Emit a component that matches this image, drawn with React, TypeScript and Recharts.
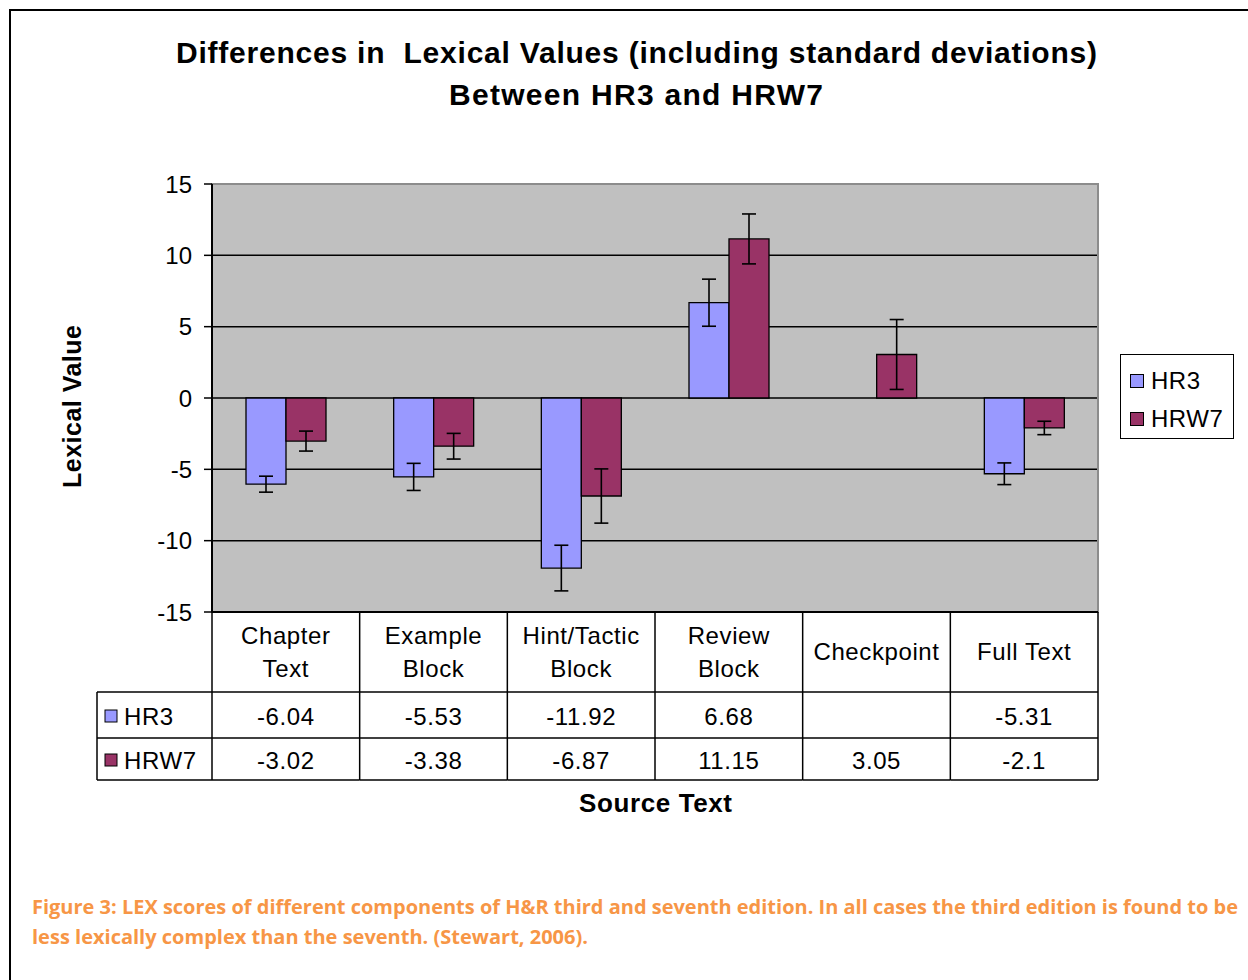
import React from 'react';
import { BarChart, Bar, XAxis, YAxis, CartesianGrid, ErrorBar, Legend, ReferenceArea } from 'recharts';

// ---------- data ----------
const categories = ['Chapter Text', 'Example Block', 'Hint/Tactic Block', 'Review Block', 'Checkpoint', 'Full Text'];
const headerLines = [['Chapter', 'Text'], ['Example', 'Block'], ['Hint/Tactic', 'Block'], ['Review', 'Block'], ['Checkpoint'], ['Full Text']];
const hr3Values: (number | null)[] = [-6.04, -5.53, -11.92, 6.68, null, -5.31];
const hrw7Values: (number | null)[] = [-3.02, -3.38, -6.87, 11.15, 3.05, -2.1];
const hr3Errors: (number | null)[] = [0.56, 0.95, 1.6, 1.65, null, 0.76];
const hrw7Errors: (number | null)[] = [0.7, 0.9, 1.9, 1.75, 2.45, 0.47];
const yTicks = [-15, -10, -5, 0, 5, 10, 15];
const gridValues = [-10, -5, 0, 5, 10];
const seriesNames = ['HR3', 'HRW7'];
const seriesColors = ['#9999FF', '#993366'];

const data = categories.map((name, i) => ({
  name,
  hr3: hr3Values[i],
  hrw7: hrw7Values[i],
  hr3Err: hr3Errors[i],
  hrw7Err: hrw7Errors[i],
}));

// ---------- layout ----------
const W = 1248;
const H = 980;
const PLOT_L = 212;
const PLOT_R = 1098;
const PLOT_T = 184;
const PLOT_B = 612;
const YAXIS_W = 150;
const XAXIS_H = 200;
const COL_W = (PLOT_R - PLOT_L) / categories.length;
const FONT = '"Liberation Sans", Arial, sans-serif';
const LINE = '#000';

const fmt = (v: number | null) => (v == null ? '' : String(v));

const TableTick = (props: any) => {
  const { x, y, index, payload } = props;
  const i = payload && payload.index != null ? payload.index : index;
  const left = x - COL_W / 2;
  const right = x + COL_W / 2;
  const lines = headerLines[i] || [categories[i]];
  const r1 = y + 80;
  const r2 = y + 126;
  const r3 = y + 168;
  const textStyle = { fontFamily: FONT, fontSize: 24, fill: '#000', letterSpacing: 0.6 };
  const headerYs = lines.length === 2 ? [y + 23, y + 56] : [y + 39];
  return (
    <g>
      {i === 0 && <line x1={left} y1={y} x2={left} y2={r3} stroke={LINE} strokeWidth={1.5} />}
      <line x1={right} y1={y} x2={right} y2={r3} stroke={LINE} strokeWidth={1.5} />
      <line x1={left} y1={r1} x2={right} y2={r1} stroke={LINE} strokeWidth={1.5} />
      <line x1={left} y1={r2} x2={right} y2={r2} stroke={LINE} strokeWidth={1.5} />
      <line x1={left} y1={r3} x2={right} y2={r3} stroke={LINE} strokeWidth={1.5} />
      {lines.map((t: string, k: number) => (
        <text key={k} x={x} y={headerYs[k]} textAnchor="middle" dominantBaseline="central" style={textStyle}>
          {t}
        </text>
      ))}
      <text x={x} y={y + 104} textAnchor="middle" dominantBaseline="central" style={textStyle}>
        {fmt(hr3Values[i])}
      </text>
      <text x={x} y={y + 148} textAnchor="middle" dominantBaseline="central" style={textStyle}>
        {fmt(hrw7Values[i])}
      </text>
      {i === 0 && (
        <g>
          <line x1={97} y1={r1} x2={left} y2={r1} stroke={LINE} strokeWidth={1.5} />
          <line x1={97} y1={r2} x2={left} y2={r2} stroke={LINE} strokeWidth={1.5} />
          <line x1={97} y1={r3} x2={left} y2={r3} stroke={LINE} strokeWidth={1.5} />
          <line x1={97} y1={r1} x2={97} y2={r3} stroke={LINE} strokeWidth={1.5} />
          {seriesNames.map((n, k) => {
            const cy = k === 0 ? y + 104 : y + 148;
            return (
              <g key={n}>
                <rect x={105} y={cy - 6} width={12} height={12} fill={seriesColors[k]} stroke="#000" strokeWidth={1} />
                <text x={124} y={cy} dominantBaseline="central" style={textStyle}>
                  {n}
                </text>
              </g>
            );
          })}
        </g>
      )}
    </g>
  );
};

const LegendBox = (props: any) => {
  const payload = props.payload || [];
  return (
    <div
      style={{
        width: 114,
        height: 85,
        border: '1.5px solid #000',
        background: '#fff',
        boxSizing: 'border-box',
        position: 'relative',
        fontFamily: FONT,
        fontSize: 24,
        color: '#000',
      }}
    >
      {payload.map((p: any, k: number) => (
        <div
          key={p.value}
          style={{ position: 'absolute', left: 9, top: k === 0 ? 12 : 50, height: 28, display: 'flex', alignItems: 'center' }}
        >
          <span
            style={{
              display: 'inline-block',
              width: 12,
              height: 12,
              background: p.color,
              border: '1px solid #000',
              marginRight: 7,
            }}
          />
          <span style={{ letterSpacing: 0.5 }}>{p.value}</span>
        </div>
      ))}
    </div>
  );
};

export default function App() {
  return (
    <div style={{ position: 'absolute', left: 0, top: 0, width: W, height: H, overflow: 'hidden', background: '#fff' }}>
      <div
        style={{
          position: 'absolute',
          left: 9,
          top: 9,
          width: 1300,
          height: 1100,
          border: '2px solid #000',
          boxSizing: 'border-box',
        }}
      />
      <div style={{ position: 'absolute', left: 0, top: 0 }}>
        <BarChart
          width={W}
          height={H}
          data={data}
          margin={{ top: PLOT_T, right: W - PLOT_R, bottom: H - PLOT_B - XAXIS_H, left: PLOT_L - YAXIS_W }}
          barGap={0}
          barSize={40}
        >
          <CartesianGrid vertical={false} horizontalValues={gridValues} stroke="#000" strokeWidth={1.5} fill="#C0C0C0" fillOpacity={1} />
          <ReferenceArea y1={-15} y2={15} fill="none" fillOpacity={0} stroke="#8c8c8c" strokeWidth={2} ifOverflow="visible" />
          <XAxis
            dataKey="name"
            height={XAXIS_H}
            interval={0}
            tickLine={false}
            tickSize={0}
            tickMargin={0}
            axisLine={{ stroke: '#000', strokeWidth: 2 }}
            tick={<TableTick />}
          />
          <YAxis
            width={YAXIS_W}
            domain={[-15, 15]}
            ticks={yTicks}
            interval={0}
            allowDataOverflow
            tickSize={8}
            tickMargin={12}
            tick={{ fill: '#000', fontSize: 24, fontFamily: FONT }}
            tickLine={{ stroke: '#000', strokeWidth: 1.5 }}
            axisLine={{ stroke: '#000', strokeWidth: 2 }}
          />
          <Legend
            layout="horizontal"
            align="center"
            verticalAlign="middle"
            content={<LegendBox />}
            wrapperStyle={{ left: 1120, top: 354, width: 114, height: 85 }}
          />
          <Bar dataKey="hr3" name={seriesNames[0]} fill={seriesColors[0]} stroke="#000" strokeWidth={1.3} isAnimationActive={false}>
            <ErrorBar dataKey="hr3Err" width={7} stroke="#000" strokeWidth={1.6} direction="y" isAnimationActive={false} />
          </Bar>
          <Bar dataKey="hrw7" name={seriesNames[1]} fill={seriesColors[1]} stroke="#000" strokeWidth={1.3} isAnimationActive={false}>
            <ErrorBar dataKey="hrw7Err" width={7} stroke="#000" strokeWidth={1.6} direction="y" isAnimationActive={false} />
          </Bar>
        </BarChart>
      </div>
      <svg width={W} height={H} style={{ position: 'absolute', left: 0, top: 0, pointerEvents: 'none' }}>
        <text x={636.5} y={63} textAnchor="middle" textLength={921} lengthAdjust="spacing" style={{ fontFamily: FONT, fontSize: 30, fontWeight: 700, whiteSpace: 'pre' }}>
          {'Differences in  Lexical Values (including standard deviations)'}
        </text>
        <text x={636} y={105} textAnchor="middle" textLength={374} lengthAdjust="spacing" style={{ fontFamily: FONT, fontSize: 30, fontWeight: 700 }}>
          Between HR3 and HRW7
        </text>
        <text
          x={80.5}
          y={406.5}
          textAnchor="middle"
          transform="rotate(-90 80.5 406.5)"
          textLength={163}
          lengthAdjust="spacing"
          style={{ fontFamily: FONT, fontSize: 25, fontWeight: 700 }}
        >
          Lexical Value
        </text>
        <text x={655.5} y={812} textAnchor="middle" textLength={153} lengthAdjust="spacing" style={{ fontFamily: FONT, fontSize: 26, fontWeight: 700 }}>
          Source Text
        </text>
        <text x={32} y={914} textLength={1206} lengthAdjust="spacingAndGlyphs" style={{ fontFamily: '"Open Sans", sans-serif', fontSize: 19, fontWeight: 700, fill: '#F79646' }}>
          Figure 3: LEX scores of different components of H&amp;R third and seventh edition. In all cases the third edition is found to be
        </text>
        <text x={32} y={944} textLength={556} lengthAdjust="spacingAndGlyphs" style={{ fontFamily: '"Open Sans", sans-serif', fontSize: 19, fontWeight: 700, fill: '#F79646' }}>
          less lexically complex than the seventh. (Stewart, 2006).
        </text>
      </svg>
    </div>
  );
}
